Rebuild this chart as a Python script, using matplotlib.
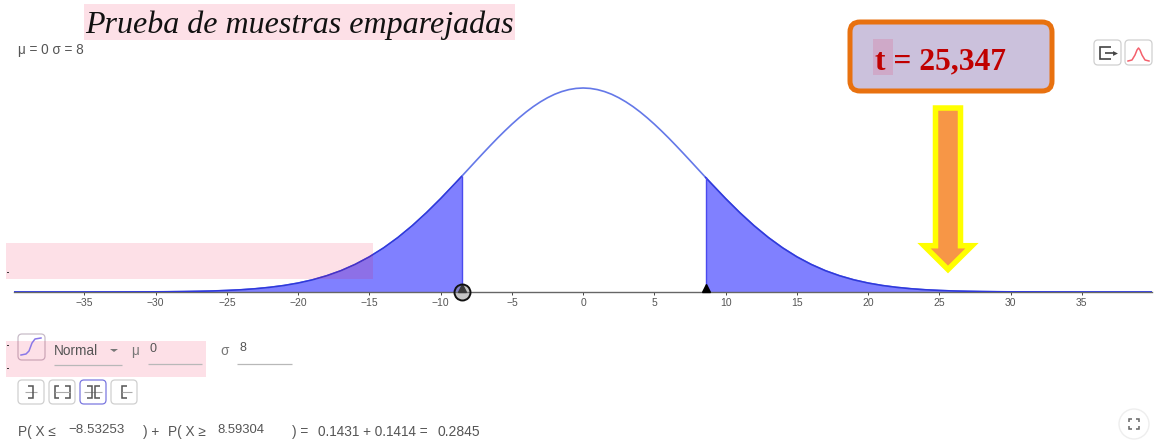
import matplotlib

matplotlib.use("Agg")
import matplotlib.pyplot as plt
import numpy as np
from matplotlib.patches import FancyBboxPatch, Polygon, Rectangle

# values
curve_x = [-41, -40, -39, -38, -37, -36, -35, -34, -33, -32, -31, -30, -29, -28, -27, -26, -25, -24,
           -23, -22, -21, -20, -19, -18, -17, -16, -15, -14, -13, -12, -11, -10, -9, -8.53253, -8,
           -7.5, -7, -6.5, -6, -5.5, -5, -4.5, -4, -3.5, -3, -2.5, -2, -1.5, -1, -0.5, 0,
           0.5, 1, 1.5, 2, 2.5, 3, 3.5, 4, 4.5, 5, 5.5, 6, 6.5, 7, 7.5, 8, 8.59304, 9, 10, 11, 12, 13, 14, 15,
           16, 17, 18, 19, 20, 21, 22, 23, 24, 25, 26, 27, 28, 29, 30, 31, 32, 33, 34, 35, 36, 37,
           38, 39, 40, 41]
curve_y = [0, 0, 0, 0, 0, 0, 0, 0.00001, 0.00001, 0.00002, 0.00003, 0.00004, 0.00007, 0.00011, 0.00017,
           0.00025, 0.00038, 0.00055, 0.0008, 0.00114, 0.00159, 0.00219, 0.00297, 0.00397, 0.00521,
           0.00675, 0.0086, 0.01079, 0.01332, 0.01619, 0.01938, 0.02283, 0.02649, 0.02824, 0.03025,
           0.03214, 0.03401, 0.03585, 0.03765, 0.03937, 0.04102, 0.04257, 0.04401, 0.04532, 0.04648,
           0.04749, 0.04834, 0.049, 0.04948, 0.04977, 0.04987,
           0.04977, 0.04948, 0.049, 0.04834, 0.04749, 0.04648, 0.04532, 0.04401, 0.04257, 0.04102,
           0.03937, 0.03765, 0.03585, 0.03401, 0.03214, 0.03025, 0.02801, 0.02649, 0.02283, 0.01938,
           0.01619, 0.01332, 0.01079, 0.0086, 0.00675, 0.00521, 0.00397, 0.00297, 0.00219, 0.00159,
           0.00114, 0.0008, 0.00055, 0.00038, 0.00025, 0.00017, 0.00011, 0.00007, 0.00004, 0.00003,
           0.00002, 0.00001, 0.00001, 0, 0, 0, 0, 0, 0, 0]
x_ticks = [-35, -30, -25, -20, -15, -10, -5, 0, 5, 10, 15, 20, 25, 30, 35]
left_cut = -8.53253
right_cut = 8.59304

TITLE = "Prueba de muestras emparejadas"
PARAM_LABEL = "μ = 0 σ = 8"
T_LABEL = "t = 25,347"

W, H = 1163, 441
SANS = "Liberation Sans"
SERIF = "Liberation Serif"
GREY = "#555555"
PINK = "#f1003f"
PX = 0.72  # px to pt at dpi 100

fig = plt.figure(figsize=(W / 100, H / 100), dpi=100, facecolor="white")

ax = fig.add_axes([14 / W, (H - 292) / H, 1138 / W, 232 / H])
ax.patch.set_alpha(0)
x = np.array(curve_x, dtype=float)
y = np.array(curve_y, dtype=float)
ax.set_xlim(-39.94, 39.92)
ax.set_ylim(0, 0.04987 * 232 / 204)
left_mask = x <= left_cut
right_mask = x >= right_cut
for mask in (left_mask, right_mask):
    ax.fill_between(x[mask], 0, y[mask], color="#8080ff", lw=0, zorder=2)
    ax.plot(x[mask], y[mask], color="#3038dc", lw=1.1, zorder=3)
ax.plot(x, y, color="#6478e8", lw=1.2, zorder=2.5)
ax.vlines([left_cut, right_cut], 0, [y[left_mask][-1], y[right_mask][0]], color="#4a4aee", lw=1, zorder=3)

for side in ("top", "left", "right"):
    ax.spines[side].set_visible(False)
ax.spines["bottom"].set_color("#666666")
ax.spines["bottom"].set_linewidth(1)
ax.set_yticks([])
ax.set_xticks(x_ticks)
ax.set_xticklabels([str(t).replace("-", "\u2212") for t in x_ticks], fontsize=7.5, family=SANS, color=GREY)
ax.tick_params(axis="x", length=2.5, width=0.7, color="#444444", pad=2)

ax.plot([left_cut, right_cut], [0.0009, 0.0009], ls="none", marker="^", ms=6, color="black",
        clip_on=False, zorder=5)
ax.plot([left_cut], [0.0001], ls="none", marker="o", ms=11.5, mfc=(0.5, 0.5, 0.5, 0.45), mec="#111111",
        mew=1.4, clip_on=False, zorder=6)

# everything else is page furniture, placed in pixels
page = fig.add_axes([0, 0, 1, 1])
page.set_xlim(0, W)
page.set_ylim(H, 0)
page.axis("off")
page.patch.set_alpha(0)


def pink_band(x0, y0, x1, y1):
    rect = Rectangle((x0, y0), x1 - x0, y1 - y0, fc=PINK, ec="none", alpha=0.12, zorder=4)
    page.add_patch(rect)
    return rect


def label(px, py, text, size=9.8, color=GREY, ha="left", **kw):
    kw.setdefault("family", SANS)
    return page.text(px, py, text, fontsize=size, color=color, ha=ha, va="center", zorder=8, **kw)


def button(x0, y0, x1, y1, edge="#d0d0d0"):
    page.add_patch(FancyBboxPatch((x0 + 3, y0 + 3), x1 - x0 - 6, y1 - y0 - 6, boxstyle="round,pad=3,rounding_size=4",
                                  fc="white", ec=edge, lw=0.9, zorder=3))


def stroke(xs, ys, color="#555555", lw=1.1):
    page.plot(xs, ys, color=color, lw=lw, solid_capstyle="butt", solid_joinstyle="miter", zorder=5)


# title
title_rect = pink_band(84, 4, 515, 40)
title = page.text(85, 33, TITLE, fontsize=23, family=SERIF, style="italic", color="#111111", va="baseline", zorder=8)
title.set_clip_path(title_rect)
title.set_clip_on(True)
label(18, 50, PARAM_LABEL)

# t value callout
page.add_patch(FancyBboxPatch((860, 32), 182, 49, boxstyle="round,pad=10,rounding_size=10", fc="#cbc1dc",
                              ec="#e8710f", lw=5 * PX, zorder=3))
page.add_patch(Rectangle((873, 39), 20, 36, fc=PINK, ec="none", alpha=0.12, zorder=4))
page.text(875, 69, T_LABEL, fontsize=22.7, family=SERIF, weight="bold", color="#c00000", va="baseline", zorder=8)

# arrow pointing at 25
page.add_patch(Polygon([(935.5, 108), (960.5, 108), (960.5, 245.7), (972, 245.7), (948, 269.5), (924, 245.7), (935.5, 245.7)],
                       closed=True, fc="#f79646", ec="#ffff00", lw=5.5 * PX, joinstyle="miter", zorder=5))

# top right buttons
button(1094, 40, 1121, 65)
button(1125, 40, 1152, 65)
stroke([1111, 1100, 1100, 1111], [47, 47, 59, 59], color="#444444", lw=1.2)
stroke([1105, 1114], [53, 53], color="#444444", lw=1.2)
page.plot([1115], [53], marker=">", ms=3.5, color="#444444", mew=0, zorder=5)
bell_x = [1128, 1132, 1135, 1137, 1138.5, 1140, 1142, 1145, 1149]
bell_y = [61, 60, 55, 50, 48, 50, 55, 60, 61]
page.plot(bell_x, bell_y, color="#f4606c", lw=1.1, zorder=5)

# distribution row
pink_band(6, 341, 206, 377)
pink_band(6, 243, 373, 279)
for dot_y in (272, 345, 368):
    page.plot([6.5, 8], [dot_y, dot_y], color="#333333", lw=0.7, zorder=5)
button(18, 334, 45, 360, edge="#c8bcc8")
page.plot([21, 26, 29, 32, 35, 41], [355, 354, 351, 343, 339, 338], color="#8a78e8", lw=1.1, zorder=5)
label(54, 351, "Normal")
page.add_patch(Polygon([(110, 349), (118, 349), (114, 352)], fc="#777777", ec="none", zorder=5))
label(131, 351, "μ", color="#777777")
label(150, 349, "0", size=9)
label(220, 351, "σ", color="#777777")
label(239, 348, "8", size=9)
for x0, x1, ly in ((54, 122, 365), (148, 202, 364), (237, 292, 364)):
    stroke([x0, x1], [ly, ly], color="#b8b8b8", lw=0.9)

# interval buttons
button(18, 380, 44, 404)
button(49, 380, 75, 404)
button(80, 380, 106, 404, edge="#7b78e0")
button(111, 380, 137, 404)
ymid = 392
stroke([25, 37], [ymid, ymid], color="#aaaaaa", lw=0.8)
stroke([28, 33, 33, 28], [386, 386, 398, 398])
stroke([59, 55, 55, 59], [386, 386, 398, 398])
stroke([65, 70, 70, 65], [386, 386, 398, 398])
stroke([55, 70], [ymid, ymid], color="#aaaaaa", lw=0.8)
stroke([84, 102], [ymid, ymid], color="#aaaaaa", lw=0.8)
stroke([87, 92, 92, 87], [386, 386, 398, 398])
stroke([100, 95, 95, 100], [386, 386, 398, 398])
stroke([127, 122, 122, 127], [386, 386, 398, 398])
stroke([122, 132], [ymid, ymid], color="#aaaaaa", lw=0.8)

# probability line
label(18, 432, "P( X ≤")
label(68, 430, "\u22128.53253", size=9.6)
label(143, 432, ") +")
label(168, 432, "P( X ≥")
label(217, 430, "8.59304", size=9.4)
label(292, 432, ") =")
label(318, 432, "0.1431 + 0.1414 =")
label(437, 432, "0.2845", size=10)

# fullscreen button
page.add_patch(plt.Circle((1134, 424), 15, fc="white", ec="#eeeeee", lw=1, zorder=3))
for sx, sy in ((-1, -1), (1, -1), (-1, 1), (1, 1)):
    stroke([1134 + 5 * sx, 1134 + 5 * sx, 1134 + 2 * sx], [424 + 2 * sy, 424 + 5 * sy, 424 + 5 * sy],
           color="#666666", lw=1.1)

fig.savefig("out.png", dpi=100)
